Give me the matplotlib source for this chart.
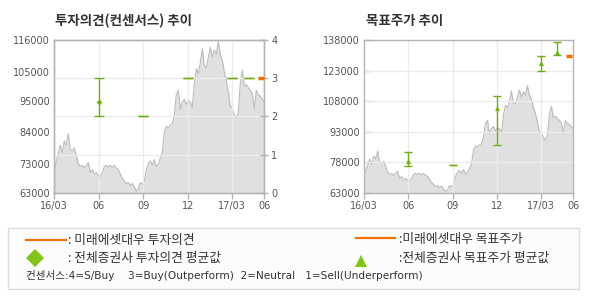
import numpy as np
import matplotlib
matplotlib.use("Agg")
import matplotlib.pyplot as plt
from matplotlib.patches import Rectangle
from matplotlib.lines import Line2D

KR = ['Noto Sans CJK KR', 'DejaVu Sans']
plt.rcParams['font.family'] = KR

# ---------------- data ----------------
# stock price (thousand KRW), roughly every 4 days from 16/03 to mid 17/05
price_k = [70.5, 74, 76.5, 79.5, 77, 81, 79.5, 83.5, 78, 77.5, 78.5, 76, 73, 72, 72.5,
           71.5, 72.5, 73.5, 70, 71, 69.5, 70, 69, 68.5, 70, 72, 72.5, 72, 72.5, 71.8,
           72.5, 71.5, 71, 69.5, 68, 67, 66, 66.5, 65.5, 66.2, 65, 63.5, 64.5, 66.5, 66,
           67, 71, 73, 74, 72.5, 74.5, 72, 73, 75, 77, 84, 86, 85.5, 86.5, 87,
           90, 97, 98.5, 92, 94.5, 95.5, 93.5, 95, 94.5, 92.5, 101, 106, 104.5, 108, 113,
           107, 106.5, 110, 113.5, 110, 112.5, 111, 115.5, 111, 109, 105, 102, 98, 93, 92.5,
           90, 89, 91, 101, 105.5, 100, 100.5, 99.5, 98.5, 97.5, 92, 98.5, 97, 96.5, 95.5,
           94.5]
price = np.array(price_k) * 1000
x_end = 14.16  # months after 2016-03 shown on the axis

x_ticks = [0, 3, 6, 9, 12, x_end]
x_labels = ['16/03', '06', '09', '12', '17/03', '06']

# investment opinion consensus (right axis 0-4)
op_x = [3, 6, 9, 12, 13.1]
op_mean = [2.37, 2, 3, 3, 3]
op_hi = [3, 2, 3, 3, 3]
op_lo = [2, 2, 3, 3, 3]
mirae_op_x = [13.92]
mirae_op = [3]

left_ticks = [63000, 73000, 84000, 95000, 105000, 116000]
op_ticks = [0, 1, 2, 3, 4]

# target price consensus
tp_x = [3, 6, 9, 12, 13.08]
tp_mean = [78600, 76500, 104800, 126900, 132100]
tp_hi = [83100, 76500, 110700, 130300, 137200]
tp_lo = [76300, 76500, 86300, 122800, 130500]
mirae_tp_x = [13.87]
mirae_tp = [130100]
right_ticks = [63000, 78000, 93000, 108000, 123000, 138000]

# ---------------- style ----------------
W, H = 590, 300
FILL = '#e0e0e0'
EDGE = '#bcbcbc'
GRID = '#ebebeb'
SPINE = '#b4b4b4'
GREEN = '#6fae12'
LGREEN = '#86c31a'
ORANGE = '#f07000'
TXT = '#555555'

fig = plt.figure(figsize=(W / 100, H / 100), dpi=100)
fig.patch.set_facecolor('white')


def fx(px):
    return px / W


def fy(py):
    return 1 - py / H


def style_axis(ax):
    for s in ax.spines.values():
        s.set_color(SPINE)
        s.set_linewidth(1)
    ax.tick_params(colors=SPINE, labelcolor=TXT, labelsize=7, width=1)


xs = np.linspace(0, x_end, len(price))

# ---------- left chart ----------
axL = fig.add_axes([fx(54.3), fy(192.7), fx(264.3 - 54.3), (192.7 - 40) / H])
axL.fill_between(xs, price, 63000, color=FILL, lw=0, zorder=1)
axL.plot(xs, price, color=EDGE, lw=0.8, zorder=1.5)
axL.set_xlim(0, x_end)
axL.set_ylim(63000, 116000)
axL.set_yticks(left_ticks)
axL.set_yticklabels([str(v) for v in left_ticks], family='DejaVu Sans')
axL.set_xticks(x_ticks)
axL.set_xticklabels(x_labels, family='DejaVu Sans')
style_axis(axL)
axL.tick_params(axis='y', length=0, pad=3)
axL.tick_params(axis='x', length=4, direction='out', pad=2)

axLr = axL.twinx()
axLr.set_ylim(0, 4)
axLr.set_yticks(op_ticks)
axLr.set_yticklabels([str(v) for v in op_ticks], family='DejaVu Sans')
style_axis(axLr)
axLr.tick_params(axis='y', length=6, direction='inout', pad=2)
axLr.set_axisbelow(False)
for v in op_ticks[1:-1]:
    axLr.axhline(v, color=GRID, lw=1, zorder=2)
for v in x_ticks[1:-1]:
    axLr.axvline(v, color=GRID, lw=1, zorder=2)

om = np.array(op_mean); oh = np.array(op_hi); ol = np.array(op_lo)
axLr.errorbar(op_x, om, yerr=[om - ol, oh - om], fmt='none', ecolor=GREEN,
              elinewidth=1, capsize=3.3, capthick=1, zorder=4)
mask = oh > ol
axLr.plot(np.array(op_x)[mask], om[mask], 'D', color=GREEN, ms=3, mew=0, zorder=5)
axLr.plot(mirae_op_x, mirae_op, marker='_', color=ORANGE, ms=4.5, mew=2.5, ls='none', zorder=5)

# ---------- right chart ----------
axR = fig.add_axes([fx(363.7), fy(192.7), fx(573.3 - 363.7), (192.7 - 40) / H])
axR.fill_between(xs, price, 63000, color=FILL, lw=0, zorder=1)
axR.plot(xs, price, color=EDGE, lw=0.8, zorder=1.5)
axR.set_xlim(0, x_end)
axR.set_ylim(63000, 138000)
axR.set_yticks(right_ticks)
axR.set_yticklabels([str(v) for v in right_ticks], family='DejaVu Sans')
axR.set_xticks(x_ticks)
axR.set_xticklabels(x_labels, family='DejaVu Sans')
style_axis(axR)
axR.tick_params(axis='y', length=5, direction='in', pad=3)
axR.tick_params(axis='x', length=4, direction='out', pad=2)
for v in right_ticks[1:-1]:
    axR.axhline(v, color=GRID, lw=1, zorder=2)
for v in x_ticks[1:-1]:
    axR.axvline(v, color=GRID, lw=1, zorder=2)

tm = np.array(tp_mean); th = np.array(tp_hi); tl = np.array(tp_lo)
axR.errorbar(tp_x, tm, yerr=[tm - tl, th - tm], fmt='none', ecolor=GREEN,
             elinewidth=1, capsize=3, capthick=1, zorder=4)
mask = th > tl
axR.plot(np.array(tp_x)[mask], tm[mask], '^', color=GREEN, ms=3.5, mew=0, zorder=5)
axR.plot(mirae_tp_x, mirae_tp, marker='_', color=ORANGE, ms=4.5, mew=2.5, ls='none', zorder=5)

# ---------- titles ----------
fig.text(fx(55), fy(20.5), '투자의견(컨센서스) 추이', fontsize=9.7, fontweight='bold',
         color='#333333', ha='left', va='center')
fig.text(fx(366.5), fy(20.5), '목표주가 추이', fontsize=9.7, fontweight='bold',
         color='#333333', ha='left', va='center')

# ---------- legend box ----------
fig.patches.append(Rectangle((fx(8.3), fy(289.3)), fx(579.3 - 8.3), (289.3 - 228) / H,
                             transform=fig.transFigure, facecolor='#fcfcfc',
                             edgecolor='#dcdcdc', lw=1))
fig.lines.append(Line2D([fx(26), fx(65.7)], [fy(239.7), fy(239.7)], color=ORANGE, lw=1.6,
                        transform=fig.transFigure))
fig.lines.append(Line2D([fx(356), fx(395)], [fy(237.7), fy(237.7)], color=ORANGE, lw=1.6,
                        transform=fig.transFigure))
fig.lines.append(Line2D([fx(34.7)], [fy(258)], marker='D', color=LGREEN, ms=9, mew=0,
                        transform=fig.transFigure))
fig.lines.append(Line2D([fx(360.7)], [fy(260.5)], marker='^', color=LGREEN, ms=8, mew=0,
                        transform=fig.transFigure))
LFS = 9.2
fig.text(fx(68), fy(240.5), ': 미래에셋대우 투자의견', fontsize=LFS, color='#333333',
         ha='left', va='center')
fig.text(fx(68), fy(258.5), ': 전체증권사 투자의견 평균값', fontsize=LFS, color='#333333',
         ha='left', va='center')
fig.text(fx(399), fy(240), ':미래에셋대우 목표주가', fontsize=LFS, color='#333333',
         ha='left', va='center')
fig.text(fx(399), fy(258), ':전체증권사 목표주가 평균값', fontsize=LFS, color='#333333',
         ha='left', va='center')
fig.text(fx(26), fy(275.5),
         '컨센서스:4=S/Buy    3=Buy(Outperform)  2=Neutral   1=Sell(Underperform)',
         fontsize=7.6, color='#333333', ha='left', va='center',
         family=['DejaVu Sans', 'Noto Sans CJK KR'])

fig.savefig('out.png', dpi=100)
